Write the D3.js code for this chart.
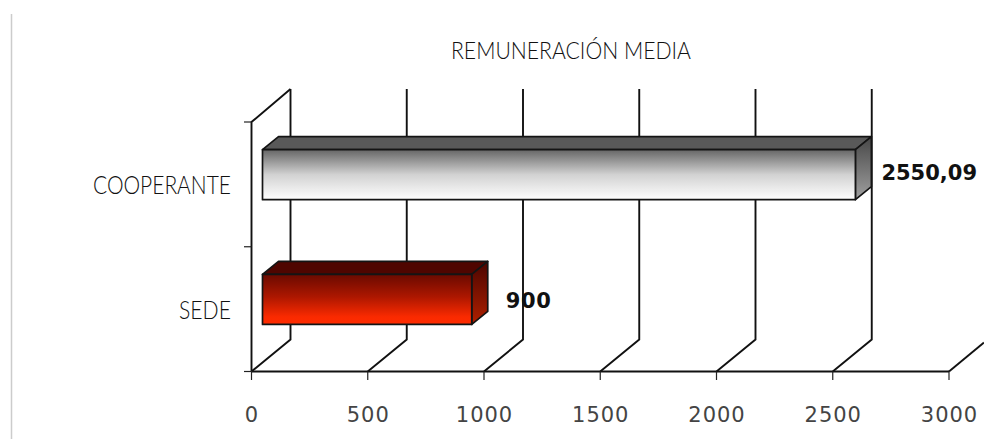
<!DOCTYPE html>
<html><head><meta charset="utf-8">
<script src="https://cdn.jsdelivr.net/npm/d3@7"></script>
<style>html,body{margin:0;padding:0;background:#fff;overflow:hidden}svg{display:block}</style>
</head><body><svg id="c" width="984" height="439"></svg>
<script>
const categories = ["SEDE", "COOPERANTE"];
const values = [900, 2550.09];
const valueLabels = ["900", "2550,09"];
const xTicks = [0, 500, 1000, 1500, 2000, 2500, 3000];
const chartTitle = "REMUNERACIÓN MEDIA";

const svg = d3.select("#c");
const x = d3.scaleLinear().domain([0, 3000]).range([251.5, 949]);
const y = d3.scaleBand().domain(categories).range([371.5, 122]);
const dx = 39, dy = -32;           // wall depth
const barDx = 16, barDy = -13;     // bar depth
const barH = 50, barOffX = 11, barOffY = -9.7;
const condensed = "Lato, 'Open Sans', sans-serif";

const defs = svg.append("defs");
function grad(id, stops) {
  const g = defs.append("linearGradient").attr("id", id)
    .attr("x1", 0).attr("y1", 0).attr("x2", 0).attr("y2", 1);
  stops.forEach(s => g.append("stop").attr("offset", s[0]).attr("stop-color", s[1]));
}
grad("gFront0", [[0, "#6a0a00"], [0.45, "#ad1700"], [0.85, "#fa2a00"], [1, "#ff2c00"]]);
grad("gSide0", [[0, "#4a0500"], [1, "#b02000"]]);
grad("gFront1", [[0, "#666666"], [0.5, "#d2d2d2"], [1, "#ffffff"]]);
grad("gSide1", [[0, "#474747"], [1, "#a0a0a0"]]);
const topCols = ["#4f0500", "#595959"];

// outer page rule
svg.append("line").attr("x1", 11.5).attr("x2", 11.5).attr("y1", 14).attr("y2", 439)
  .attr("stroke", "#cccccc").attr("stroke-width", 1.5);

// walls and grid
const wall = svg.append("g").attr("fill", "none").attr("stroke", "#111").attr("stroke-width", 1.9);
xTicks.forEach(t => {
  const px = x(t);
  const pts = t < 3000
    ? [[px, y.range()[0]], [px + dx, y.range()[0] + dy], [px + dx, y.range()[1] + dy - 1]]
    : [[px, y.range()[0]], [px + 35, y.range()[0] - 29]];
  wall.append("path").attr("d", d3.line()(pts));
});
wall.append("path").attr("d", d3.line()([[x(0), y.range()[0]], [x(0), y.range()[1]], [x(0) + dx, y.range()[1] + dy - 1]]));
wall.append("path").attr("d", d3.line()([[x(0), y.range()[0]], [x(3000), y.range()[0]]]));

// ticks
const ticks = svg.append("g").attr("stroke", "#222").attr("stroke-width", 1.2);
xTicks.forEach(t => ticks.append("line").attr("x1", x(t)).attr("x2", x(t)).attr("y1", 371.5).attr("y2", 380));
[y.range()[0], y.range()[0] - y.step(), y.range()[1]].forEach(v =>
  ticks.append("line").attr("x1", 244).attr("x2", x(0)).attr("y1", v).attr("y2", v));

// bars
categories.forEach((c, i) => {
  const x0 = x(0) + barOffX, x1 = x(values[i]) + barOffX;
  const t = y(c) + y.bandwidth() / 2 - barH / 2 + barOffY, b = t + barH;
  const g = svg.append("g").attr("stroke", "#141414").attr("stroke-width", 1.7).attr("stroke-linejoin", "round");
  g.append("path").attr("fill", topCols[i]).attr("d", d3.line()([[x0, t], [x0 + barDx, t + barDy], [x1 + barDx, t + barDy], [x1, t]]) + "Z");
  g.append("path").attr("fill", `url(#gSide${i})`).attr("d", d3.line()([[x1, t], [x1 + barDx, t + barDy], [x1 + barDx, b + barDy], [x1, b]]) + "Z");
  g.append("rect").attr("fill", `url(#gFront${i})`).attr("x", x0).attr("y", t).attr("width", x1 - x0).attr("height", barH);
  svg.append("text").attr("x", x1 + barDx + (i ? 10 : 18)).attr("y", t + barH / 2 + (i ? 5.5 : 8.5))
    .attr("font-family", "DejaVu Sans").attr("font-weight", "bold").attr("font-size", 21)
    .attr("letter-spacing", i ? 0 : 0.6)
    .attr("fill", "#111").text(valueLabels[i]);
  svg.append("text").attr("x", 231).attr("y", y(c) + y.bandwidth() / 2 + 10).attr("text-anchor", "end")
    .attr("font-family", condensed).attr("font-weight", 300).attr("font-size", 25)
    .attr("textLength", i ? 138 : 52).attr("lengthAdjust", "spacingAndGlyphs")
    .attr("fill", "#111").text(c);
});

// tick labels
svg.append("g").selectAll("text").data(xTicks).join("text")
  .attr("x", d => x(d) + 0.5).attr("y", 421.5).attr("text-anchor", "middle")
  .attr("font-family", "DejaVu Sans").attr("font-size", 21).attr("letter-spacing", 1)
  .attr("fill", "#444").text(d => d);

// title
svg.append("text").attr("x", 571).attr("y", 59).attr("text-anchor", "middle")
  .attr("font-family", condensed).attr("font-weight", 300).attr("font-size", 24)
  .attr("textLength", 240).attr("lengthAdjust", "spacingAndGlyphs")
  .attr("fill", "#111").text(chartTitle);
</script></body></html>
